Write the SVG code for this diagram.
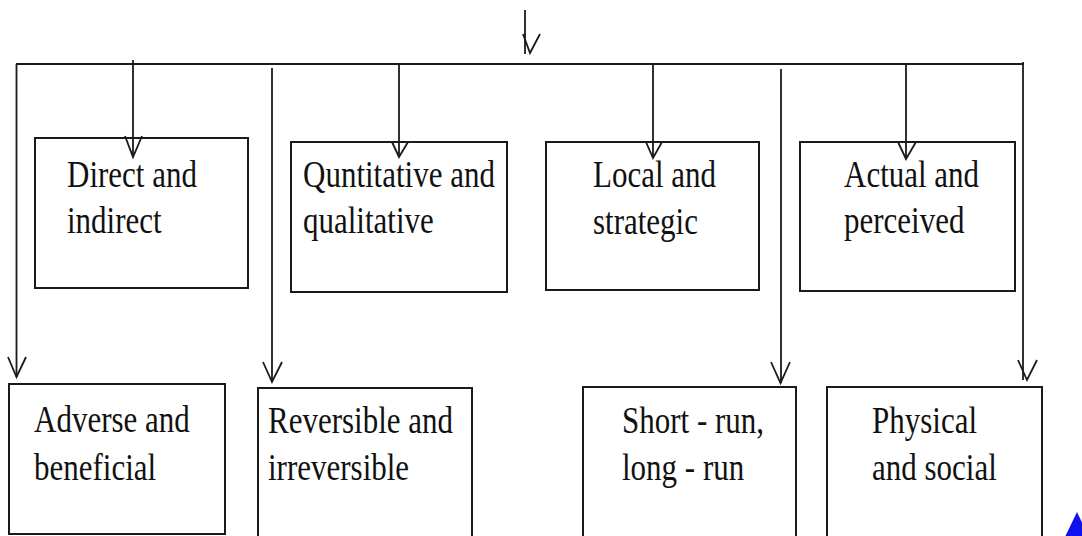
<svg xmlns="http://www.w3.org/2000/svg" width="1082" height="536" viewBox="0 0 1082 536">
<style>
.box{fill:#fff;stroke:#1a1a1a;stroke-width:2}
.ln{fill:none;stroke:#1a1a1a;stroke-width:1.8}
.v{fill:none;stroke:#1a1a1a;stroke-width:1.8}
.t{font-family:"Liberation Serif","Times New Roman",serif;font-size:31px;fill:#111}
</style>
<g id="n1">
<rect class="box" x="35" y="138" width="213" height="150"/>
<text class="t" transform="translate(67,187) scale(1,1.2)"><tspan x="0" y="0">Direct and</tspan><tspan x="0" y="38.5">indirect</tspan></text>
</g>
<g id="n2">
<rect class="box" x="291" y="142" width="216" height="150"/>
<text class="t" transform="translate(303,187) scale(1,1.2)"><tspan x="0" y="0">Quntitative and</tspan><tspan x="0" y="38.5">qualitative</tspan></text>
</g>
<g id="n3">
<rect class="box" x="546" y="142" width="213" height="148"/>
<text class="t" transform="translate(593,187) scale(1,1.2)"><tspan x="0" y="0">Local and</tspan><tspan x="0" y="39.5">strategic</tspan></text>
</g>
<g id="n4">
<rect class="box" x="800" y="142" width="215" height="149"/>
<text class="t" transform="translate(844,187) scale(1,1.2)"><tspan x="0" y="0">Actual and</tspan><tspan x="0" y="38.5">perceived</tspan></text>
</g>
<g id="n5">
<rect class="box" x="9" y="384" width="216" height="150"/>
<text class="t" transform="translate(34,432) scale(1,1.2)"><tspan x="0" y="0">Adverse and</tspan><tspan x="0" y="40">beneficial</tspan></text>
</g>
<g id="n6">
<rect class="box" x="258" y="388" width="214" height="150"/>
<text class="t" transform="translate(268,433) scale(1,1.2)"><tspan x="0" y="0">Reversible and</tspan><tspan x="0" y="39">irreversible</tspan></text>
</g>
<g id="n7">
<rect class="box" x="583" y="387" width="213" height="151"/>
<text class="t" transform="translate(622,433) scale(1,1.2)"><tspan x="0" y="0">Short - run,</tspan><tspan x="0" y="39">long - run</tspan></text>
</g>
<g id="n8">
<rect class="box" x="827" y="387" width="215" height="151"/>
<text class="t" transform="translate(872,433) scale(1,1.2)"><tspan x="0" y="0">Physical</tspan><tspan x="0" y="39">and social</tspan></text>
</g>
<g id="connectors">
<line class="ln" x1="525" y1="10" x2="525" y2="54"/>
<path class="v" d="M523,34 L530,53 L540,34"/>
<line class="ln" x1="16" y1="64" x2="1024" y2="64"/>
<line class="ln" x1="16.5" y1="64" x2="16.5" y2="377"/>
<path class="v" d="M8,357 L16.5,377 L26,357"/>
<line class="ln" x1="133" y1="60" x2="133" y2="157"/>
<path class="v" d="M125,136 L133,157 L142,136"/>
<line class="ln" x1="399" y1="64" x2="399" y2="157"/>
<path class="v" d="M392,142 L399,157 L408,142"/>
<line class="ln" x1="653" y1="64" x2="653" y2="158"/>
<path class="v" d="M646,142 L653,158 L662,142"/>
<line class="ln" x1="906" y1="64" x2="906" y2="159"/>
<path class="v" d="M898,142 L906,159 L916,142"/>
<line class="ln" x1="272" y1="68" x2="272" y2="382"/>
<path class="v" d="M263,362 L272,382 L282,362"/>
<line class="ln" x1="781" y1="69" x2="781" y2="383"/>
<path class="v" d="M771,362 L780.5,383 L790,362"/>
<line class="ln" x1="1023" y1="62" x2="1023" y2="380"/>
<path class="v" d="M1018,360 L1027,380 L1037,360"/>
</g>
<polygon points="1065,537 1077,512 1089,537" fill="#1010f0"/>
</svg>
